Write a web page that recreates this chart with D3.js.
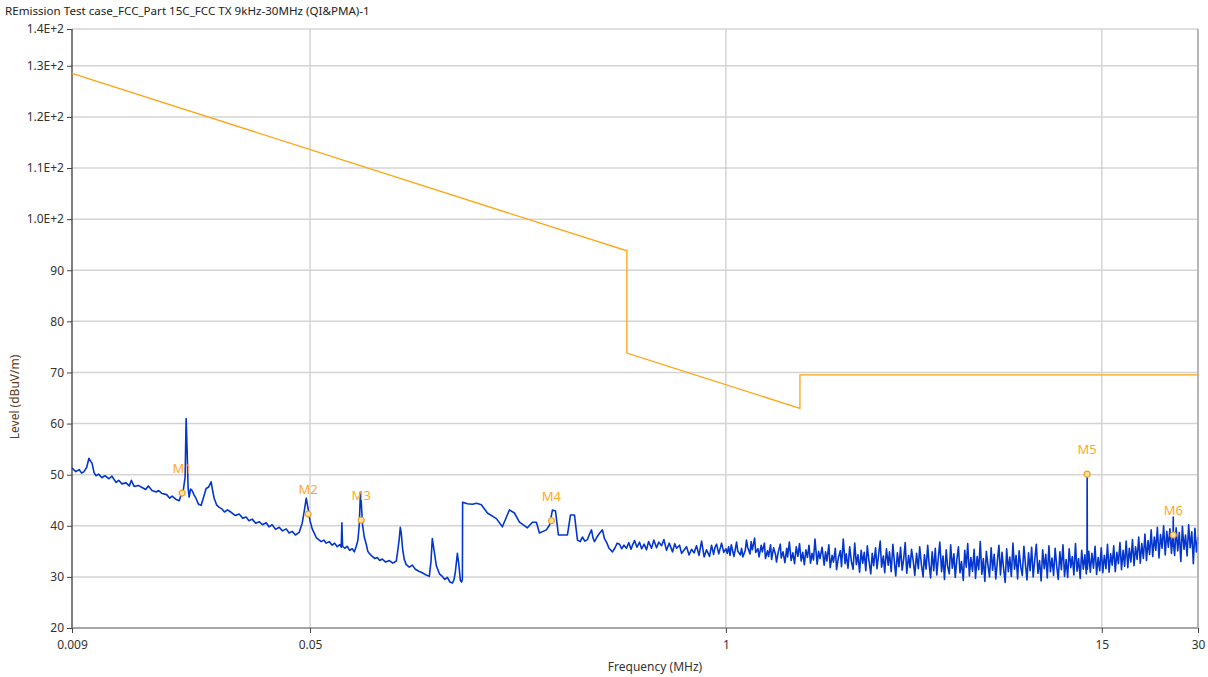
<!DOCTYPE html>
<html>
<head>
<meta charset="utf-8">
<script src="https://cdn.jsdelivr.net/npm/d3@7"></script>
<style>
  body { margin: 0; background: #fff; }
  svg { display: block; font-family: "Noto Sans", "Open Sans", sans-serif; }
</style>
</head>
<body>
<svg id="chart" width="1208" height="677"></svg>
<script>
// chart texts
const title = 'REmission Test case_FCC_Part 15C_FCC TX 9kHz-30MHz (QI&PMA)-1';
const xTitle = 'Frequency (MHz)';
const yTitle = 'Level (dBuV/m)';

// axis ticks
const xTicks = [0.009, 0.05, 1, 15, 30];
const xGrid = [0.05, 1, 15, 30];
const yTicks = [20, 30, 40, 50, 60, 70, 80, 90, 100, 110, 120, 130, 137.2];

// FCC 15.209 limit, [MHz, dBuV/m]
const limitFreq = [0.009, 0.49, 0.49, 1.705, 1.705, 30];
const limitLevel = [128.5, 93.8, 73.8, 62.97, 69.54, 69.54];

// markers
const markerNames = ['M1', 'M2', 'M3', 'M4', 'M5', 'M6'];
const markerFreq = [0.0199, 0.0493, 0.0723, 0.2846, 13.5, 25.1];
const markerLevel = [46.4, 42.3, 41.1, 41.0, 50.1, 38.2];

// measured trace, [MHz, dBuV/m] (9 - 150 kHz)
const traceLow = [
  [0.0090, 51.3], [0.00925, 50.6], [0.00947, 51.0], [0.00965, 50.3], [0.00981, 50.6],
  [0.0100, 51.4], [0.01017, 53.2], [0.0103, 52.6], [0.0104, 52.2], [0.01055, 50.4],
  [0.0107, 49.8], [0.0109, 50.1], [0.01117, 49.4], [0.0114, 49.8], [0.01175, 49.2],
  [0.0120, 49.7], [0.01236, 48.5], [0.0126, 48.9], [0.0129, 48.2], [0.01328, 48.4],
  [0.0136, 47.8], [0.0138, 48.9], [0.01408, 47.7], [0.0145, 47.9], [0.01491, 47.5],
  [0.0153, 47.1], [0.0156, 47.8], [0.01602, 46.9], [0.0165, 46.6], [0.0168, 46.9],
  [0.01722, 46.3], [0.0178, 46.1], [0.0182, 45.4], [0.01851, 45.8], [0.0190, 45.2],
  [0.01947, 44.9], [0.01975, 46.0], [0.02005, 46.8], [0.02033, 49.5], [0.02048, 61.0],
  [0.02062, 55.0], [0.02077, 47.5], [0.02092, 45.6], [0.02115, 47.2], [0.02138, 46.9],
  [0.0217, 46.0], [0.02201, 45.3], [0.0224, 44.2], [0.02282, 44.0], [0.0232, 45.5],
  [0.02365, 47.3], [0.0241, 47.6], [0.02452, 48.6], [0.0248, 46.8], [0.02506, 45.4],
  [0.0255, 44.1], [0.02598, 43.6], [0.0265, 43.3], [0.0270, 42.7], [0.0276, 43.1],
  [0.02853, 42.5], [0.0292, 42.0], [0.0300, 42.3], [0.0308, 41.5], [0.03156, 41.7],
  [0.0322, 41.0], [0.03295, 41.3], [0.0338, 40.5], [0.03466, 40.8], [0.0355, 40.2],
  [0.03646, 40.6], [0.0372, 39.8], [0.03807, 40.2], [0.0390, 39.3], [0.04004, 39.7],
  [0.0410, 39.0], [0.04211, 39.4], [0.0430, 38.6], [0.04398, 38.9], [0.0450, 38.2],
  [0.04624, 38.7], [0.04726, 40.5], [0.0480, 43.0], [0.04865, 45.4], [0.04935, 43.2],
  [0.0500, 41.0], [0.05079, 39.4], [0.0515, 38.6], [0.05228, 37.7], [0.0532, 37.3],
  [0.05419, 36.9], [0.0552, 37.2], [0.05618, 36.6], [0.0574, 36.9], [0.05867, 36.2],
  [0.0597, 36.6], [0.06081, 35.9], [0.0620, 36.3], [0.0626, 35.8], [0.0629, 40.6],
  [0.0632, 36.0], [0.0642, 35.6], [0.06535, 36.0], [0.0665, 35.2], [0.06777, 35.5],
  [0.0688, 34.9], [0.06975, 36.0], [0.0706, 37.2], [0.07128, 40.2], [0.0719, 46.6],
  [0.07232, 44.5], [0.0730, 40.2], [0.0739, 37.8], [0.07497, 36.4], [0.0758, 35.0],
  [0.0766, 34.6], [0.07828, 34.0], [0.0798, 33.6], [0.08116, 33.8], [0.0826, 33.2],
  [0.08412, 33.5], [0.0862, 32.9], [0.0885, 33.2], [0.0908, 32.7], [0.09308, 33.1],
  [0.0940, 35.0], [0.09511, 37.5], [0.0958, 39.7], [0.0965, 38.5], [0.0974, 35.5],
  [0.09861, 33.4], [0.1000, 32.4], [0.10223, 31.9], [0.1045, 32.3], [0.10675, 31.5],
  [0.1095, 31.1], [0.11227, 30.8], [0.1150, 30.4], [0.11807, 30.1], [0.1195, 33.0],
  [0.12065, 37.5], [0.1220, 35.5], [0.12418, 32.2], [0.1270, 30.6], [0.12969, 30.1],
  [0.1320, 29.5], [0.13446, 29.9], [0.1370, 29.0], [0.13941, 28.8], [0.1410, 29.4],
  [0.14247, 31.0], [0.14454, 34.6], [0.1460, 32.5], [0.14769, 29.3], [0.1490, 29.0],
  [0.14985, 29.6]
];

// 150 kHz - 1 MHz
const traceMid = [
  [0.1501, 44.6], [0.1553, 44.3], [0.1610, 44.2], [0.1660, 44.4], [0.1718, 44.1],
  [0.1795, 42.5], [0.1914, 41.4], [0.1999, 39.8], [0.2102, 43.1], [0.2180, 42.5],
  [0.2260, 40.7], [0.2394, 39.6], [0.2481, 40.7], [0.2554, 40.7], [0.2610, 38.6],
  [0.2745, 39.2], [0.2810, 40.2], [0.2867, 43.1], [0.2930, 42.9], [0.2993, 38.2],
  [0.3194, 38.2], [0.3264, 42.1], [0.3360, 42.1], [0.3433, 37.2], [0.350, 36.9],
  [0.3558, 37.8], [0.362, 37.0], [0.3690, 37.3], [0.3740, 38.3], [0.3798, 39.2],
  [0.3840, 37.6], [0.3881, 36.9], [0.395, 37.8], [0.403, 38.6], [0.4110, 39.2],
  [0.417, 37.5], [0.4231, 36.8], [0.431, 35.6], [0.4418, 34.9], [0.450, 35.7],
  [0.4570, 36.6], [0.4647, 36.4], [0.472, 35.5], [0.480, 36.2], [0.4887, 35.6],
  [0.497, 36.7], [0.505, 35.4], [0.5103, 36.2], [0.518, 37.1], [0.527, 35.8],
  [0.5368, 36.8], [0.545, 35.5], [0.555, 36.4], [0.5645, 35.3], [0.573, 36.9],
  [0.5853, 35.6], [0.595, 37.2], [0.6068, 35.7], [0.617, 36.8], [0.6290, 36.1],
  [0.640, 37.3], [0.6521, 35.2], [0.665, 36.6], [0.6810, 34.9], [0.692, 36.5],
  [0.7009, 35.6], [0.7162, 36.2], [0.727, 34.6], [0.7372, 35.1], [0.7533, 35.9],
  [0.767, 34.3], [0.7810, 35.4], [0.795, 34.7], [0.8096, 36.1], [0.824, 34.2],
  [0.8394, 37.0], [0.855, 33.9], [0.8700, 35.3], [0.8890, 34.0], [0.902, 36.2],
  [0.9152, 34.4], [0.925, 35.8], [0.9352, 36.4], [0.950, 34.5], [0.9694, 36.6],
  [0.985, 34.8]
];

// 1 - 30 MHz
const traceHigh = [
  [1.00, 35.5], [1.01, 34.6], [1.02, 35.9], [1.03, 34.2], [1.04, 36.3], [1.05, 35.1],
  [1.06, 34.0], [1.07, 35.4], [1.08, 36.8], [1.09, 35.0], [1.11, 34.3], [1.12, 35.6],
  [1.13, 33.9], [1.15, 35.2], [1.16, 37.2], [1.17, 35.8], [1.19, 34.5], [1.20, 36.9],
  [1.21, 35.3], [1.23, 37.6], [1.24, 34.8], [1.26, 35.5], [1.27, 33.9], [1.29, 36.2],
  [1.30, 34.9], [1.32, 36.6], [1.33, 33.6], [1.35, 35.1], [1.36, 34.0], [1.38, 36.3],
  [1.39, 33.4], [1.41, 35.7], [1.43, 34.4], [1.44, 32.9], [1.46, 35.0], [1.48, 36.4],
  [1.49, 33.7], [1.51, 34.9], [1.53, 32.8], [1.55, 35.6], [1.56, 33.9], [1.58, 36.8],
  [1.60, 33.2], [1.62, 34.7], [1.64, 32.6], [1.66, 35.9], [1.68, 34.0], [1.70, 36.5],
  [1.72, 33.1], [1.74, 34.8], [1.76, 32.4], [1.78, 35.3], [1.80, 33.8], [1.82, 36.2],
  [1.84, 32.7], [1.86, 34.6], [1.88, 33.3], [1.90, 37.4], [1.93, 32.5], [1.95, 35.0],
  [1.97, 33.6], [2.00, 35.8], [2.03, 32.3], [2.05, 34.9], [2.07, 33.1], [2.10, 36.3],
  [2.12, 31.8], [2.15, 34.2], [2.17, 32.9], [2.20, 35.6], [2.22, 31.4], [2.25, 33.8],
  [2.28, 35.1], [2.30, 32.0], [2.33, 37.4], [2.36, 32.6], [2.38, 34.5], [2.41, 31.7],
  [2.44, 35.9], [2.47, 33.0], [2.50, 31.5], [2.53, 36.6], [2.56, 32.4], [2.59, 34.3],
  [2.62, 30.9], [2.65, 35.2], [2.68, 32.7], [2.71, 34.8], [2.74, 31.2], [2.77, 36.1],
  [2.80, 33.4], [2.84, 30.6], [2.87, 34.6], [2.90, 32.2], [2.94, 35.7], [2.97, 31.6],
  [3.00, 33.9], [3.04, 37.0], [3.07, 31.9], [3.11, 34.1], [3.14, 30.8], [3.18, 35.5],
  [3.22, 32.3], [3.25, 34.9], [3.29, 31.0], [3.33, 36.4], [3.37, 32.6], [3.40, 30.2],
  [3.44, 34.7], [3.48, 32.0], [3.52, 35.8], [3.56, 31.3], [3.60, 33.5], [3.64, 36.7],
  [3.68, 30.7], [3.73, 34.2], [3.77, 31.8], [3.81, 35.4], [3.86, 32.9], [3.90, 30.3],
  [3.95, 34.6], [4.00, 31.6], [4.04, 35.9], [4.09, 32.4], [4.14, 30.0], [4.18, 34.3],
  [4.23, 31.5], [4.28, 36.2], [4.32, 32.8], [4.37, 29.8], [4.42, 34.9], [4.47, 31.2],
  [4.52, 35.6], [4.57, 30.4], [4.62, 33.7], [4.67, 36.8], [4.73, 31.0], [4.78, 34.1],
  [4.83, 29.5], [4.89, 35.3], [4.94, 32.1], [5.00, 30.6], [5.05, 36.3], [5.11, 31.7],
  [5.17, 34.5], [5.22, 29.9], [5.28, 33.4], [5.34, 35.9], [5.40, 30.8], [5.46, 33.0],
  [5.53, 29.3], [5.59, 35.2], [5.65, 31.9], [5.71, 36.5], [5.78, 30.2], [5.84, 33.8],
  [5.91, 31.1], [5.98, 35.4], [6.04, 29.7], [6.11, 34.0], [6.18, 31.4], [6.25, 36.9],
  [6.32, 30.5], [6.39, 33.6], [6.46, 29.1], [6.53, 35.0], [6.61, 32.2], [6.68, 30.0],
  [6.76, 35.7], [6.83, 31.3], [6.91, 34.4], [6.99, 29.6], [7.07, 33.1], [7.15, 36.2],
  [7.23, 30.4], [7.31, 34.8], [7.39, 31.8], [7.48, 28.9], [7.56, 35.5], [7.65, 31.0],
  [7.73, 33.9], [7.82, 30.1], [7.91, 36.6], [8.00, 31.5], [8.09, 34.2], [8.18, 29.6],
  [8.27, 35.1], [8.37, 31.9], [8.46, 30.3], [8.56, 36.0], [8.65, 32.6], [8.75, 29.4],
  [8.85, 34.7], [8.95, 31.2], [9.05, 35.8], [9.15, 30.0], [9.26, 33.5], [9.36, 36.4],
  [9.47, 30.7], [9.58, 33.2], [9.69, 29.2], [9.80, 35.3], [9.91, 31.6], [10.02, 34.4],
  [10.13, 29.8], [10.25, 36.1], [10.36, 31.0], [10.48, 33.7], [10.60, 30.3], [10.72, 35.6],
  [10.84, 32.1], [10.96, 29.5], [11.09, 34.9], [11.21, 31.4], [11.34, 36.3], [11.47, 30.1],
  [11.60, 33.4], [11.73, 29.9], [11.86, 35.5], [12.00, 31.8], [12.13, 34.0], [12.27, 30.4],
  [12.41, 36.5], [12.55, 31.1], [12.69, 33.6], [12.84, 29.7], [12.98, 35.2], [13.13, 31.5],
  [13.28, 34.3], [13.42, 30.6], [13.48, 33.0], [13.50, 50.1], [13.52, 31.5], [13.66, 35.0],
  [13.81, 30.9], [13.97, 34.6], [14.13, 31.7], [14.29, 36.0], [14.45, 30.5], [14.61, 33.8],
  [14.78, 31.2], [14.94, 35.7], [15.11, 30.8], [15.28, 34.2], [15.46, 31.6], [15.63, 36.4],
  [15.81, 30.9], [15.99, 34.5], [16.17, 32.3], [16.35, 36.1], [16.53, 31.0], [16.72, 34.8],
  [16.91, 32.6], [17.10, 36.7], [17.29, 31.4], [17.49, 35.2], [17.68, 32.1], [17.88, 37.0],
  [18.09, 31.8], [18.29, 35.6], [18.50, 32.9], [18.71, 37.3], [18.92, 32.2], [19.13, 35.9],
  [19.35, 33.4], [19.57, 37.8], [19.79, 32.7], [20.01, 36.5], [20.24, 33.6], [20.47, 38.4],
  [20.70, 33.2], [20.93, 37.1], [21.17, 34.4], [21.41, 39.2], [21.65, 34.0], [21.90, 37.8],
  [22.14, 35.2], [22.39, 39.7], [22.65, 33.7], [22.90, 38.3], [23.16, 35.6], [23.42, 40.0],
  [23.69, 34.3], [23.96, 38.9], [24.23, 35.8], [24.50, 39.4], [24.78, 34.6], [25.00, 38.0],
  [25.05, 36.0], [25.10, 41.7], [25.15, 36.4], [25.35, 34.2], [25.63, 39.6], [25.92, 35.1],
  [26.22, 38.7], [26.51, 33.0], [26.81, 39.9], [27.12, 35.4], [27.42, 38.2], [27.73, 34.1],
  [28.05, 40.2], [28.36, 35.7], [28.69, 38.8], [29.01, 32.6], [29.34, 39.5], [29.67, 34.9],
  [30.00, 37.8]
];

const trace = traceLow.concat(traceMid, traceHigh);

const svg = d3.select('#chart');
const plot = { left: 72, right: 1198, top: 29, bottom: 628 };

const x = d3.scaleLog()
  .domain([0.009, 30])
  .range([plot.left, plot.right]);

const y = d3.scaleLinear()
  .domain([20, 137.2])
  .range([plot.bottom, plot.top]);

const yFormat = v => v >= 99.5 ? (v / 100).toFixed(1) + 'E+2' : d3.format('d')(v);

// grid
const grid = svg.append('g').attr('stroke', '#d4d4d4').attr('stroke-width', 1.5);
grid.selectAll('line.h')
  .data(yTicks.slice(1))
  .enter().append('line')
  .attr('x1', plot.left).attr('x2', plot.right)
  .attr('y1', d => y(d)).attr('y2', d => y(d));
grid.selectAll('line.v')
  .data(xGrid)
  .enter().append('line')
  .attr('x1', d => x(d)).attr('x2', d => x(d))
  .attr('y1', plot.top).attr('y2', plot.bottom);

// axes
const yAxis = svg.append('g')
  .attr('transform', `translate(${plot.left},0)`)
  .call(d3.axisLeft(y).tickValues(yTicks).tickFormat(yFormat).tickSize(5).tickPadding(3));
const xAxis = svg.append('g')
  .attr('transform', `translate(0,${plot.bottom})`)
  .call(d3.axisBottom(x).tickValues(xTicks).tickFormat(d => String(d)).tickSize(5).tickPadding(7));

[yAxis, xAxis].forEach(a => {
  a.selectAll('text').attr('fill', '#333').style('font-size', '12px').style('font-family', '"Noto Sans", sans-serif');
  a.selectAll('.tick line').attr('stroke', '#444');
});
yAxis.select('.domain').attr('stroke', '#555').attr('stroke-width', 1.5).attr('d', `M0,${plot.top}V${plot.bottom}`);
xAxis.select('.domain').attr('stroke', '#888').attr('stroke-width', 1.5).attr('d', `M${plot.left},0H${plot.right}`);

const line = d3.line().x(d => x(d[0])).y(d => y(d[1]));

// measured trace
svg.append('path')
  .datum(trace)
  .attr('d', line)
  .attr('fill', 'none')
  .attr('stroke', '#0336cc')
  .attr('stroke-width', 1.6)
  .attr('stroke-linejoin', 'round');

// limit line
const limit = limitFreq.map((f, i) => [f, limitLevel[i]]);
svg.append('path')
  .datum(limit)
  .attr('d', line)
  .attr('fill', 'none')
  .attr('stroke', '#ffa412')
  .attr('stroke-width', 1.3);

// markers
const markers = markerNames.map((n, i) => ({ name: n, f: markerFreq[i], v: markerLevel[i] }));
const mk = svg.append('g').selectAll('g')
  .data(markers)
  .enter().append('g')
  .attr('transform', d => `translate(${x(d.f)},${y(d.v)})`);
mk.append('circle')
  .attr('r', 3)
  .attr('fill', '#ffe2a8')
  .attr('stroke', '#f59d1a')
  .attr('stroke-width', 1.2);
mk.append('text')
  .attr('y', -20)
  .attr('text-anchor', 'middle')
  .attr('fill', '#ffa824')
  .style('font-size', '13px')
  .text(d => d.name);

// titles
svg.append('text')
  .attr('x', 5).attr('y', 15)
  .attr('fill', '#222')
  .style('font-size', '11.6px')
  .text(title);

svg.append('text')
  .attr('x', 655).attr('y', 671)
  .attr('text-anchor', 'middle')
  .attr('fill', '#333')
  .style('font-size', '12px')
  .text(xTitle);

svg.append('text')
  .attr('transform', 'translate(19,397) rotate(-90)')
  .attr('text-anchor', 'middle')
  .attr('fill', '#5a3b22')
  .style('font-size', '12px')
  .text(yTitle);

// right frame
svg.append('line')
  .attr('x1', plot.right).attr('x2', plot.right)
  .attr('y1', plot.top).attr('y2', plot.bottom)
  .attr('stroke', '#aaa').attr('stroke-width', 1.5);
</script>
</body>
</html>
